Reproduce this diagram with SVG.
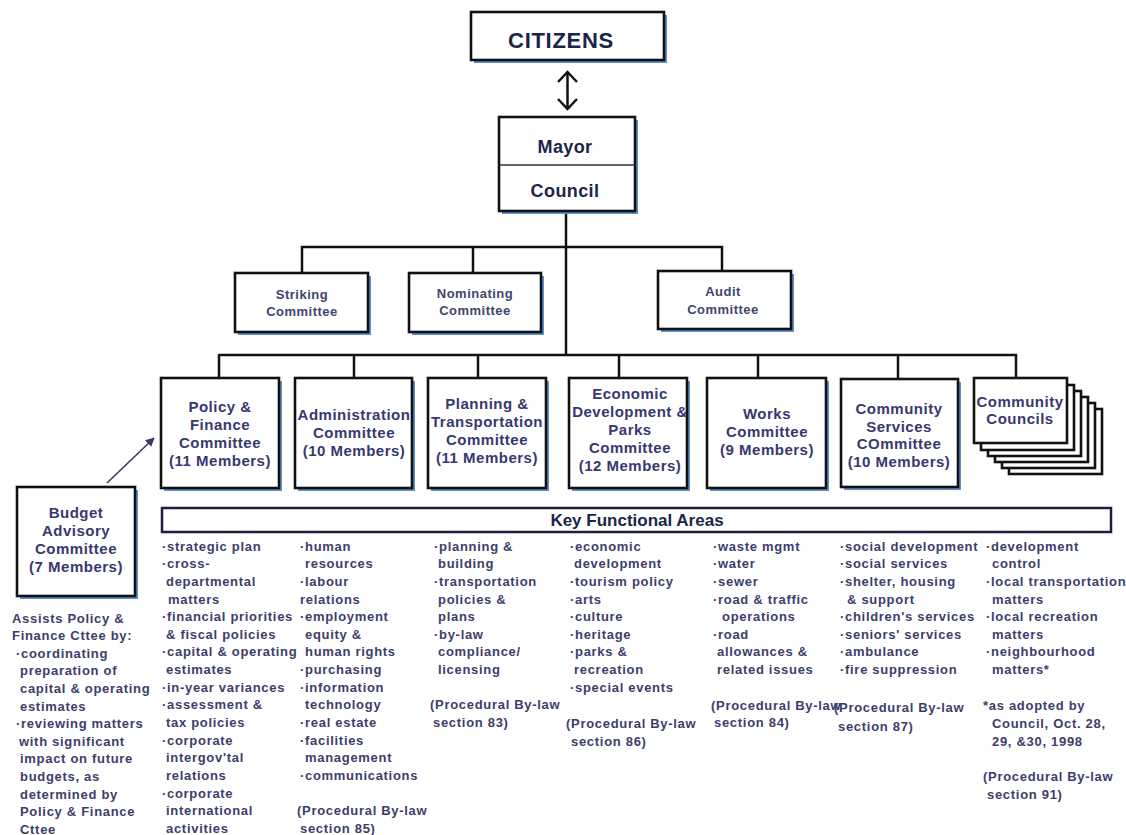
<svg xmlns="http://www.w3.org/2000/svg" width="1126" height="835" viewBox="0 0 1126 835">
<defs>
<style>
text{font-family:"Liberation Sans",Arial,sans-serif;font-weight:bold}
.box{fill:#fff;stroke:#111;stroke-width:2.6}
.sh{fill:#5b8fd0}
.ln{stroke:#111;stroke-width:2.5;fill:none}
.t{font-size:13px;letter-spacing:0.7px;fill:#3d3d6b}
.c{font-size:15px;letter-spacing:0.5px;fill:#383870;text-anchor:middle}
.s{font-size:13px;letter-spacing:0.5px;fill:#40456e;text-anchor:middle}
.h{fill:#1a2548;text-anchor:middle}
</style>
<marker id="ah" viewBox="0 0 10 10" refX="9" refY="5" markerWidth="9" markerHeight="9" orient="auto" markerUnits="userSpaceOnUse">
<path d="M0,0 L10,5 L0,10 z" fill="#3a3a5e"/>
</marker>
</defs>
<rect width="1126" height="835" fill="#fff"/>

<g id="connectors">
<line class="ln" x1="567.5" y1="72" x2="567.5" y2="109"/>
<polyline class="ln" points="558,82 567.5,72 577,82"/>
<polyline class="ln" points="558,99 567.5,109 577,99"/>
<line class="ln" x1="566" y1="211" x2="566" y2="356"/>
<polyline class="ln" points="302,273 302,247 722,247 722,271"/>
<line class="ln" x1="473" y1="247" x2="473" y2="273"/>
<line class="ln" x1="219" y1="355" x2="1017" y2="355"/>
<line class="ln" x1="219" y1="354" x2="219" y2="378"/>
<line class="ln" x1="354" y1="355" x2="354" y2="378"/>
<line class="ln" x1="478" y1="355" x2="478" y2="378"/>
<line class="ln" x1="619" y1="355" x2="619" y2="378"/>
<line class="ln" x1="758" y1="355" x2="758" y2="378"/>
<line class="ln" x1="898" y1="355" x2="898" y2="379"/>
<line class="ln" x1="1016" y1="354" x2="1016" y2="378"/>
<line x1="107" y1="483" x2="154" y2="438" stroke="#3a3a5e" stroke-width="1.6" marker-end="url(#ah)"/>
</g>

<g id="citizens">
<rect class="sh" x="474" y="15" width="193" height="48"/>
<rect class="box" x="471" y="12" width="193" height="48"/>
<text class="h" x="561" y="47.5" font-size="22" letter-spacing="0.7">CITIZENS</text>
</g>

<g id="mayor-council">
<rect class="sh" x="502" y="120" width="136" height="94"/>
<rect class="box" x="499" y="117" width="136" height="94"/>
<line x1="499" y1="165" x2="635" y2="165" stroke="#333" stroke-width="1.5"/>
<text class="h" x="565" y="153" font-size="18" letter-spacing="0.4">Mayor</text>
<text class="h" x="565" y="196.5" font-size="18" letter-spacing="0.4">Council</text>
</g>

<g id="striking">
<rect class="sh" x="238" y="276" width="133" height="59"/>
<rect class="box" x="235" y="273" width="133" height="59"/>
<text class="s" x="302" y="298.5">Striking</text>
<text class="s" x="302" y="315.5">Committee</text>
</g>

<g id="nominating">
<rect class="sh" x="412" y="276" width="132" height="59"/>
<rect class="box" x="409" y="273" width="132" height="59"/>
<text class="s" x="475" y="297.5" fill="#2c4a7a">Nominating</text>
<text class="s" x="475" y="314.5">Committee</text>
</g>

<g id="audit">
<rect class="sh" x="661" y="274" width="133" height="58"/>
<rect class="box" x="658" y="271" width="133" height="58"/>
<text class="s" x="723" y="295.5">Audit</text>
<text class="s" x="723" y="313.5">Committee</text>
</g>

<g id="policy-finance">
<rect class="sh" x="164" y="381" width="118" height="110"/>
<rect class="box" x="161" y="378" width="118" height="110"/>
<text class="c" x="220" y="412">Policy &amp;</text>
<text class="c" x="220" y="430">Finance</text>
<text class="c" x="220" y="447.5">Committee</text>
<text class="c" x="220" y="465.5">(11 Members)</text>
</g>

<g id="administration">
<rect class="sh" x="298" y="381" width="117" height="110"/>
<rect class="box" x="295" y="378" width="117" height="110"/>
<text class="c" x="354" y="420">Administration</text>
<text class="c" x="354" y="437.5">Committee</text>
<text class="c" x="354" y="455.5">(10 Members)</text>
</g>

<g id="planning">
<rect class="sh" x="431" y="381" width="118" height="110"/>
<rect class="box" x="428" y="378" width="118" height="110"/>
<text class="c" x="487" y="409">Planning &amp;</text>
<text class="c" x="487" y="427">Transportation</text>
<text class="c" x="487" y="444.5">Committee</text>
<text class="c" x="487" y="462.5">(11 Members)</text>
</g>

<g id="economic">
<rect class="sh" x="572" y="381" width="118" height="110"/>
<rect class="box" x="569" y="378" width="118" height="110"/>
<text class="c" x="630" y="399">Economic</text>
<text class="c" x="630" y="417">Development &amp;</text>
<text class="c" x="630" y="434.5">Parks</text>
<text class="c" x="630" y="452.5">Committee</text>
<text class="c" x="630" y="470.5">(12 Members)</text>
</g>

<g id="works">
<rect class="sh" x="710" y="381" width="119" height="110"/>
<rect class="box" x="707" y="378" width="119" height="110"/>
<text class="c" x="767" y="418.5">Works</text>
<text class="c" x="767" y="436.5">Committee</text>
<text class="c" x="767" y="454.5">(9 Members)</text>
</g>

<g id="community-services">
<rect class="sh" x="844" y="382" width="117" height="108"/>
<rect class="box" x="841" y="379" width="117" height="108"/>
<text class="c" x="899" y="414">Community</text>
<text class="c" x="899" y="431.5">Services</text>
<text class="c" x="899" y="449">COmmittee</text>
<text class="c" x="899" y="466.5">(10 Members)</text>
</g>

<g id="community-councils">
<rect class="box" x="1009" y="409" width="93" height="65" stroke-width="2.2"/>
<rect class="box" x="1002" y="403" width="93" height="65" stroke-width="2.2"/>
<rect class="box" x="995" y="397" width="93" height="65" stroke-width="2.2"/>
<rect class="box" x="988" y="391" width="93" height="65" stroke-width="2.2"/>
<rect class="box" x="981" y="385" width="93" height="65" stroke-width="2.2"/>
<rect class="box" x="974" y="378" width="93" height="65"/>
<text class="c" x="1020" y="406.5" font-size="14" fill="#3a3f66">Community</text>
<text class="c" x="1020" y="424" font-size="14" fill="#3a3f66">Councils</text>
</g>

<g id="budget-advisory">
<rect class="sh" x="20" y="490" width="118" height="109"/>
<rect class="box" x="17" y="487" width="118" height="109"/>
<text class="c" x="76" y="518">Budget</text>
<text class="c" x="76" y="536">Advisory</text>
<text class="c" x="76" y="553.5">Committee</text>
<text class="c" x="76" y="571.5">(7 Members)</text>
</g>

<g id="key-functional-areas">
<rect x="162" y="508" width="949" height="24" fill="#fff" stroke="#1c1f45" stroke-width="2.5"/>
<text class="h" x="637" y="525.5" font-size="17">Key Functional Areas</text>
</g>

<g id="budget-notes">
<text class="t">
<tspan x="12" y="622.5">Assists Policy &amp;</tspan>
<tspan x="12" y="639.5">Finance Cttee by:</tspan>
<tspan x="16" y="657.5">·coordinating</tspan>
<tspan x="20" y="674.5">preparation of</tspan>
<tspan x="20" y="692.5">capital &amp; operating</tspan>
<tspan x="20" y="710.5">estimates</tspan>
<tspan x="16" y="727.5">·reviewing matters</tspan>
<tspan x="19" y="745.5">with significant</tspan>
<tspan x="20" y="762.5">impact on future</tspan>
<tspan x="20" y="780.5">budgets, as</tspan>
<tspan x="20" y="798.5">determined by</tspan>
<tspan x="20" y="815.5">Policy &amp; Finance</tspan>
<tspan x="20" y="833.5">Cttee</tspan>
</text>
</g>

<g id="areas-policy-finance">
<text class="t">
<tspan x="162" y="551">·strategic plan</tspan>
<tspan x="162" y="568">·cross-</tspan>
<tspan x="166" y="586">departmental</tspan>
<tspan x="168" y="604">matters</tspan>
<tspan x="162" y="621">·financial priorities</tspan>
<tspan x="166" y="639">&amp; fiscal policies</tspan>
<tspan x="162" y="656">·capital &amp; operating</tspan>
<tspan x="166" y="674">estimates</tspan>
<tspan x="162" y="692">·in-year variances</tspan>
<tspan x="162" y="709">·assessment &amp;</tspan>
<tspan x="166" y="727">tax policies</tspan>
<tspan x="162" y="745">·corporate</tspan>
<tspan x="166" y="762">intergov'tal</tspan>
<tspan x="166" y="780">relations</tspan>
<tspan x="162" y="798">·corporate</tspan>
<tspan x="166" y="815">international</tspan>
<tspan x="166" y="833">activities</tspan>
</text>
</g>

<g id="areas-administration">
<text class="t">
<tspan x="300" y="551">·human</tspan>
<tspan x="305" y="568">resources</tspan>
<tspan x="300" y="586">·labour</tspan>
<tspan x="300" y="604">relations</tspan>
<tspan x="300" y="621">·employment</tspan>
<tspan x="305" y="639">equity &amp;</tspan>
<tspan x="305" y="656">human rights</tspan>
<tspan x="300" y="674">·purchasing</tspan>
<tspan x="300" y="692">·information</tspan>
<tspan x="305" y="709">technology</tspan>
<tspan x="300" y="727">·real estate</tspan>
<tspan x="300" y="745">·facilities</tspan>
<tspan x="305" y="762">management</tspan>
<tspan x="300" y="780">·communications</tspan>
<tspan x="297" y="815">(Procedural By-law</tspan>
<tspan x="300" y="833">section 85)</tspan>
</text>
</g>

<g id="areas-planning">
<text class="t">
<tspan x="434" y="551">·planning &amp;</tspan>
<tspan x="438" y="568">building</tspan>
<tspan x="434" y="586">·transportation</tspan>
<tspan x="438" y="604">policies &amp;</tspan>
<tspan x="438" y="621">plans</tspan>
<tspan x="434" y="639">·by-law</tspan>
<tspan x="438" y="656">compliance/</tspan>
<tspan x="438" y="674">licensing</tspan>
<tspan x="430" y="709">(Procedural By-law</tspan>
<tspan x="433" y="727">section 83)</tspan>
</text>
</g>

<g id="areas-economic">
<text class="t">
<tspan x="570" y="551">·economic</tspan>
<tspan x="574" y="568">development</tspan>
<tspan x="570" y="586">·tourism policy</tspan>
<tspan x="570" y="604">·arts</tspan>
<tspan x="570" y="621">·culture</tspan>
<tspan x="570" y="639">·heritage</tspan>
<tspan x="570" y="656">·parks &amp;</tspan>
<tspan x="574" y="674">recreation</tspan>
<tspan x="570" y="692">·special events</tspan>
<tspan x="566" y="727.5">(Procedural By-law</tspan>
<tspan x="571" y="745.5">section 86)</tspan>
</text>
</g>

<g id="areas-works">
<text class="t">
<tspan x="713" y="551">·waste mgmt</tspan>
<tspan x="713" y="568">·water</tspan>
<tspan x="713" y="586">·sewer</tspan>
<tspan x="713" y="604">·road &amp; traffic</tspan>
<tspan x="722" y="621">operations</tspan>
<tspan x="713" y="639">·road</tspan>
<tspan x="717" y="656">allowances &amp;</tspan>
<tspan x="717" y="674">related issues</tspan>
<tspan x="711" y="709.5">(Procedural By-law</tspan>
<tspan x="714" y="727">section 84)</tspan>
</text>
</g>

<g id="areas-community-services">
<text class="t">
<tspan x="840" y="551">·social development</tspan>
<tspan x="840" y="568">·social services</tspan>
<tspan x="840" y="586">·shelter, housing</tspan>
<tspan x="847" y="604">&amp; support</tspan>
<tspan x="840" y="621">·children's services</tspan>
<tspan x="840" y="639">·seniors' services</tspan>
<tspan x="840" y="656">·ambulance</tspan>
<tspan x="840" y="674">·fire suppression</tspan>
<tspan x="834" y="712">(Procedural By-law</tspan>
<tspan x="838" y="731">section 87)</tspan>
</text>
</g>

<g id="areas-community-councils">
<text class="t">
<tspan x="986" y="551">·development</tspan>
<tspan x="992" y="568">control</tspan>
<tspan x="986" y="586">·local transportation</tspan>
<tspan x="992" y="604">matters</tspan>
<tspan x="986" y="621">·local recreation</tspan>
<tspan x="992" y="639">matters</tspan>
<tspan x="986" y="656">·neighbourhood</tspan>
<tspan x="992" y="674">matters*</tspan>
<tspan x="983" y="709.5">*as adopted by</tspan>
<tspan x="992" y="727.5">Council, Oct. 28,</tspan>
<tspan x="992" y="745.5">29, &amp;30, 1998</tspan>
<tspan x="983" y="780.5">(Procedural By-law</tspan>
<tspan x="987" y="798.5">section 91)</tspan>
</text>
</g>
</svg>
